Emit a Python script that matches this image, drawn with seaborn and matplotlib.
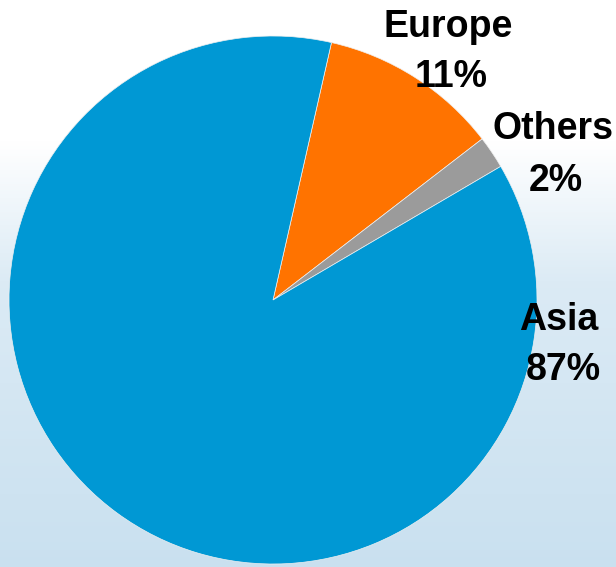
import numpy as np
import matplotlib
matplotlib.use("Agg")
import matplotlib.pyplot as plt
import seaborn as sns

# ---- data ----
regions = ["Europe", "Others", "Asia"]
shares = [11, 2, 87]
pct_labels = ["11%", "2%", "87%"]
colors = ["#FF7300", "#9B9B9B", "#0098D4"]

sns.set_theme(style="white")
plt.rcParams["font.family"] = ["Liberation Sans", "DejaVu Sans"]

W, H, DPI = 616, 567, 100
fig = plt.figure(figsize=(W / DPI, H / DPI), dpi=DPI)

# background: white sky fading into a pale blue sea
bg = fig.add_axes([0, 0, 1, 1], zorder=0)
rows = np.linspace(0, 1, 300)
top = np.array([1.0, 1.0, 1.0])
mid = np.array([0.86, 0.92, 0.96])
bot = np.array([0.79, 0.88, 0.94])
grad = np.zeros((300, 1, 3))
for i, t in enumerate(rows):
    if t < 0.25:
        c = top
    elif t < 0.5:
        f = (t - 0.25) / 0.25
        c = top * (1 - f) + mid * f
    else:
        f = (t - 0.5) / 0.5
        c = mid * (1 - f) + bot * f
    grad[i, 0] = c
bg.imshow(grad, aspect="auto", extent=[0, 1, 0, 1], origin="upper")
bg.set_axis_off()

# pie axes
cx, cy, R = 273, 300, 264
ax = fig.add_axes([(cx - R) / W, (H - cy - R) / H, 2 * R / W, 2 * R / H], zorder=1)
ax.patch.set_alpha(0)
ax.pie(shares, colors=colors, startangle=77.2, counterclock=False,
       radius=1.0, wedgeprops=dict(linewidth=0.5, edgecolor="#f0f0f0"))
ax.set_xlim(-1, 1)
ax.set_ylim(-1, 1)
ax.set_aspect("auto")
ax.set_axis_off()

name_pos = [(0.662, 0.996), (1.061, 0.608), (1.084, -0.114)]
pct_pos = [(0.676, 0.806), (1.072, 0.411), (1.099, -0.304)]
for name, pct, (nx, ny), (px, py) in zip(regions, pct_labels, name_pos, pct_pos):
    ax.text(nx, ny, name, ha="center", va="baseline", fontsize=27,
            fontweight="bold", color="black", clip_on=False)
    ax.text(px, py, pct, ha="center", va="baseline", fontsize=27,
            fontweight="bold", color="black", clip_on=False)

fig.savefig("out.png", dpi=DPI)
